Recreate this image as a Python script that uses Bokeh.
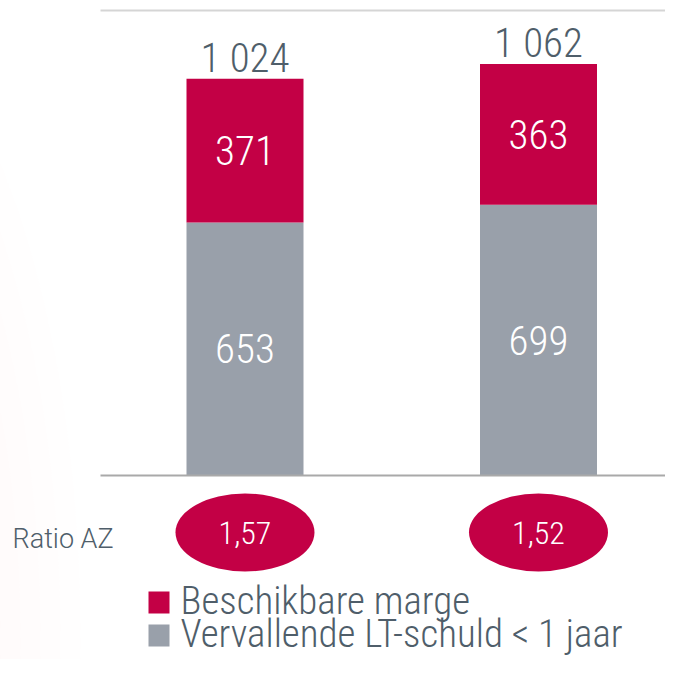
from bokeh.plotting import figure
from bokeh.models import Range1d, ColumnDataSource
from bokeh.core.properties import value
from bokeh.embed import file_html
from bokeh.resources import INLINE

# ---- data ----
categories = ["Periode 1", "Periode 2"]
vervallende_lt_schuld = [653, 699]
beschikbare_marge = [371, 363]
ratio_az = [1.57, 1.52]
legend_labels = ["Beschikbare marge", "Vervallende LT-schuld < 1 jaar"]
ratio_title = "Ratio AZ"

# ---- style ----
RED = "#c30045"
GREY = "#99a0aa"
TEXT = "#4f5e6a"
FONT = value("'Roboto Light', 'Inter Light', sans-serif")
NUMFONT = value("'Roboto Condensed Light', 'Roboto Light', sans-serif")

W, H = 665, 659
PX_X = 293.5          # pixels per category step
PX_Y = 0.3875         # pixels per value unit
BAR0_PX = 244.5       # pixel x of first bar centre
BASE_PX = 475.0       # pixel y of baseline (from top)

x_start = -BAR0_PX / PX_X
x_end = (W - BAR0_PX) / PX_X
y_end = BASE_PX / PX_Y
y_start = -(H - BASE_PX) / PX_Y

def px_to_y(py):
    return (BASE_PX - py) / PX_Y

def px_to_x(px):
    return (px - BAR0_PX) / PX_X

xs = list(range(len(categories)))
totals = [a + b for a, b in zip(vervallende_lt_schuld, beschikbare_marge)]

src = ColumnDataSource(dict(
    x=xs,
    grey_top=vervallende_lt_schuld,
    red_top=totals,
    grey_mid=[v / 2 for v in vervallende_lt_schuld],
    red_mid=[g + r / 2 for g, r in zip(vervallende_lt_schuld, beschikbare_marge)],
    grey_lbl=[str(v) for v in vervallende_lt_schuld],
    red_lbl=[str(v) for v in beschikbare_marge],
    tot_y=[t + 21 / PX_Y for t in totals],
    tot_lbl=[f"{t:,}".replace(",", " ") for t in totals],
    ratio_lbl=[f"{r:.2f}".replace(".", ",") for r in ratio_az],
    ratio_y=[px_to_y(532)] * len(xs),
))

p = figure(width=W, height=H, x_range=Range1d(x_start, x_end), y_range=Range1d(y_start, y_end),
           output_backend="svg", toolbar_location=None, min_border=0)
p.axis.visible = False
p.grid.visible = False
p.outline_line_color = None
p.background_fill_color = "white"
p.border_fill_color = "white"

# very faint pink glow at the left
for i in range(8):
    p.ellipse(x=px_to_x(-170), y=px_to_y(640), width=500 - i * 40, height=1300 - i * 90,
              width_units="screen", height_units="screen",
              fill_color="#f3c8c8", fill_alpha=0.022, line_color=None)

# lines
line_left = px_to_x(100)
p.segment(x0=line_left, x1=x_end, y0=1200, y1=1200, line_color="#d5d5d5", line_width=2)

bar_w = 117 / PX_X
p.vbar(x="x", bottom=0, top="grey_top", width=bar_w, fill_color=GREY, line_color=None, source=src)
p.vbar(x="x", bottom="grey_top", top="red_top", width=bar_w, fill_color=RED, line_color=None, source=src)

p.segment(x0=line_left, x1=x_end, y0=0, y1=0, line_color="#a9a9a9", line_width=2)

# segment labels
p.text(x="x", y="grey_mid", text="grey_lbl", source=src, text_color="white", text_font=NUMFONT,
       text_font_size="41px", text_align="center", text_baseline="middle")
p.text(x="x", y="red_mid", text="red_lbl", source=src, text_color="white", text_font=NUMFONT,
       text_font_size="41px", text_align="center", text_baseline="middle")
p.text(x="x", y="tot_y", text="tot_lbl", source=src, text_color=TEXT, text_font=NUMFONT,
       text_font_size="41px", text_align="center", text_baseline="middle")

# ratio ellipses
p.ellipse(x="x", y="ratio_y", width=139, height=78, width_units="screen", height_units="screen",
          fill_color=RED, line_color=None, source=src)
p.text(x="x", y="ratio_y", text="ratio_lbl", source=src, text_color="white", text_font=NUMFONT,
       text_font_size="32px", text_align="center", text_baseline="middle")
p.text(x=[px_to_x(12)], y=[px_to_y(538)], text=[ratio_title], text_color=TEXT, text_font=FONT,
       text_font_size="27px", text_align="left", text_baseline="middle")

# legend
mid = [px_to_y(600), px_to_y(633)]
sq = [px_to_y(602), px_to_y(635)]
p.rect(x=[px_to_x(158.5)] * 2, y=sq, width=21, height=22, width_units="screen", height_units="screen",
       fill_color=[RED, GREY], line_color=None)
p.text(x=[px_to_x(180)] * 2, y=mid, text=legend_labels, text_color=TEXT,
       text_font=NUMFONT, text_font_size="39px", text_align="left", text_baseline="middle")

open("out.html", "w").write(file_html(p, INLINE))
